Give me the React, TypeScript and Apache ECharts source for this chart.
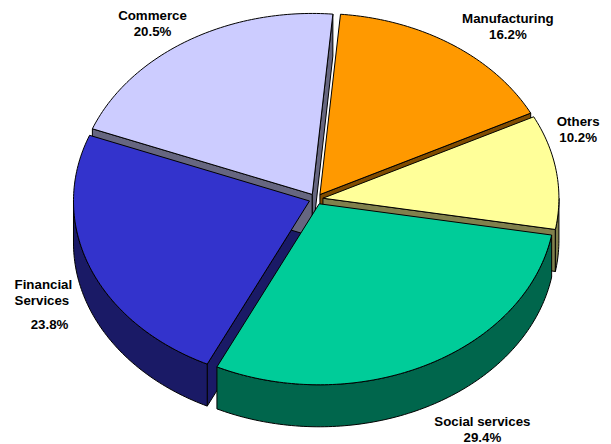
import React, { useEffect, useRef } from 'react';
import * as echarts from 'echarts';

// ---- data ----
const categories = ['Manufacturing', 'Others', 'Social services', 'Financial Services', 'Commerce'];
const labelNames = ['Manufacturing', 'Others', 'Social services', 'Financial\nServices', 'Commerce'];
const values = [16.2, 10.2, 29.4, 23.8, 20.5];

// ---- styles ----
const topColors = ['#FF9900', '#FFFF99', '#00CC99', '#3333CC', '#CCCCFF'];
const sideColors = ['#804C00', '#80804C', '#00664C', '#1A1A66', '#666680'];

// ---- layout ----
const CX = 316;
const CY = 199;
const RX = 236;
const RY = 181;
const DEPTH = 42;
const EXPLODE = 7;
const START_ANGLE = 5; // degrees clockwise from 12 o'clock
const LABEL_R = 1.2;
// label nudges relative to the geometric anchor
const labelLayout = [
  { dx: 33, dy: 7.5, align: 'center', nameDx: 0, gap: 0 },
  { dx: -18, dy: -38, align: 'center', nameDx: 0, gap: 0 },
  { dx: 37, dy: -4.5, align: 'center', nameDx: 0, gap: 0 },
  { dx: -3, dy: -12, align: 'left', nameDx: -35, gap: 8 },
  { dx: -14, dy: 8.7, align: 'center', nameDx: 0, gap: 0 },
];

const total = values.reduce((s, v) => s + v, 0);
const spans: [number, number][] = [];
{
  let acc = START_ANGLE;
  values.forEach((v) => {
    const sweep = (v / total) * 360;
    spans.push([acc, acc + sweep]);
    acc += sweep;
  });
}

const rad = (d: number) => (d * Math.PI) / 180;
const pt = (cx: number, cy: number, deg: number): [number, number] => [
  cx + RX * Math.sin(rad(deg)),
  cy - RY * Math.cos(rad(deg)),
];

function arc(cx: number, cy: number, a1: number, a2: number, dy = 0): [number, number][] {
  const n = Math.max(2, Math.ceil(Math.abs(a2 - a1)));
  const out: [number, number][] = [];
  for (let k = 0; k <= n; k++) {
    const a = a1 + ((a2 - a1) * k) / n;
    const p = pt(cx, cy, a);
    out.push([p[0], p[1] + dy]);
  }
  return out;
}

const FONT = { fontSize: 13.3, fontWeight: 'bold', fontFamily: '"Liberation Sans", Arial, sans-serif', lineHeight: 16, fill: '#000' };

function renderItem(params: any) {
  const i = params.dataIndex;
  const [t1, t2] = spans[i];
  const m = (t1 + t2) / 2;
  const cx = CX + EXPLODE * Math.sin(rad(m));
  const cy = CY - EXPLODE * (RY / RX) * Math.cos(rad(m));
  const children: any[] = [];
  const stroke = { stroke: '#000', lineWidth: 1, lineJoin: 'round' };

  // radial walls
  const radial = (t: number) => {
    const r = pt(cx, cy, t);
    children.push({
      type: 'polygon',
      z2: 1,
      shape: { points: [[cx, cy], r, [r[0], r[1] + DEPTH], [cx, cy + DEPTH]] },
      style: { fill: sideColors[i], ...stroke },
    });
  };
  if (Math.cos(rad(t1 - 90)) < 0) radial(t1);
  if (Math.cos(rad(t2 + 90)) < 0) radial(t2);

  // outer curved wall (front half only)
  [[90, 270], [450, 630]].forEach(([lo, hi]) => {
    const s = Math.max(t1, lo);
    const e = Math.min(t2, hi);
    if (e > s) {
      const topArc = arc(cx, cy, s, e);
      const botArc = arc(cx, cy, e, s, DEPTH);
      children.push({
        type: 'polygon',
        z2: 2,
        shape: { points: [...topArc, ...botArc] },
        style: { fill: sideColors[i], ...stroke },
      });
    }
  });

  // top face
  children.push({
    type: 'polygon',
    z2: 3,
    shape: { points: [[cx, cy], ...arc(cx, cy, t1, t2)] },
    style: { fill: topColors[i], ...stroke },
  });

  // label
  const L = labelLayout[i];
  const front = Math.cos(rad(m)) < 0 ? DEPTH : 0;
  const lx = CX + Math.sin(rad(m)) * RX * LABEL_R + L.dx;
  const ly = CY - Math.cos(rad(m)) * RY * LABEL_R + front + L.dy;
  const pct = ((values[i] / total) * 100).toFixed(1) + '%';
  children.push({
    type: 'text',
    z2: 4,
    style: { ...FONT, text: labelNames[i], x: lx + L.nameDx, y: ly, align: L.align, verticalAlign: 'bottom' },
  });
  children.push({
    type: 'text',
    z2: 4,
    style: { ...FONT, text: pct, x: lx, y: ly + L.gap, align: 'center', verticalAlign: 'top' },
  });

  return { type: 'group', children };
}

export default function App() {
  const ref = useRef<HTMLDivElement>(null);
  useEffect(() => {
    document.body.style.margin = '0';
    const chart = echarts.init(ref.current!, null, { renderer: 'svg' });
    chart.setOption({
      animation: false,
      backgroundColor: '#ffffff',
      series: [
        {
          type: 'custom',
          coordinateSystem: 'none',
          silent: true,
          renderItem,
          data: values.map((v, i) => ({ name: categories[i], value: v })),
        },
      ],
    });
    return () => chart.dispose();
  }, []);
  return <div ref={ref} style={{ width: 611, height: 444 }} />;
}
